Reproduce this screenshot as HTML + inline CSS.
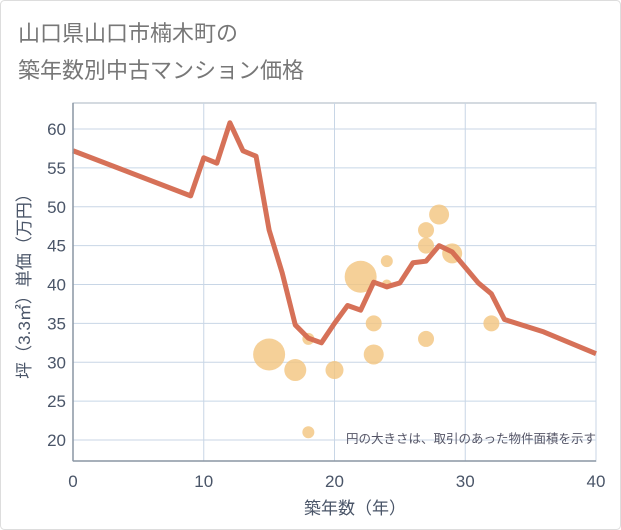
<!DOCTYPE html>
<html><head><meta charset="utf-8">
<style>
html,body{margin:0;padding:0;background:#fff;}
#wrap{position:relative;width:621px;height:530px;overflow:hidden;}
svg text{font-family:"Liberation Sans","Noto Sans CJK JP",sans-serif;}
</style></head>
<body>
<div id="wrap">
<svg id="chart" width="621" height="530">
<rect x="0.5" y="0.5" width="620" height="529" rx="4" fill="#fff" stroke="#ddd"/>
<text x="18" y="41" font-size="22" fill="#777">山口県山口市楠木町の</text>
<text x="18" y="78" font-size="22" fill="#777">築年数別中古マンション価格</text>
<g id="grid"></g>
<g id="bubbles"></g>
<g id="line"></g>
<g id="axes"></g>
<text x="596" y="443" font-size="12.5" fill="#556" text-anchor="end">円の大きさは、取引のあった物件面積を示す</text>
<text x="355" y="514" font-size="17" fill="#4a5568" text-anchor="middle">築年数（年）</text>
<text transform="translate(30,282) rotate(-90)" font-size="17" fill="#4a5568" text-anchor="middle">坪（3.3㎡）単価（万円）</text>
</svg>
</div>
<script>
const xTicks=[0,10,20,30,40];
const yTicks=[20,25,30,35,40,45,50,55,60];
const lineYears=[0,9,10,11,12,13,14,15,16,17,18,19,20,21,22,23,24,25,26,27,28,29,30,31,32,33,36,40];
const linePrices=[57.2,51.4,56.3,55.6,60.8,57.2,56.5,47,41.5,34.8,33.1,32.5,35,37.3,36.7,40.3,39.7,40.2,42.8,43,45,44.2,42.2,40.2,38.8,35.5,33.9,31.1];
const bubbleYears=[15,17,18,20,22,23,23,24,24,27,27,28,29,27,32,18];
const bubblePrices=[31,29,33,29,41,35,31,43,40,47,45,49,44,33,35,21];
const bubbleSizes=[16,11,6,9,16,8,10,6,5,8,8,10,10,8,8,6];
const L=73,R=596,T=103,B=461;
function xs(v){return L+(v-0)/(40-0)*(R-L);}
function ys(v){return 129+(60-v)*(440-129)/40;}
const NS="http://www.w3.org/2000/svg";
function mk(tag,attrs,parent){const e=document.createElementNS(NS,tag);for(const k in attrs)e.setAttribute(k,attrs[k]);parent.appendChild(e);return e;}
const grid=document.getElementById('grid'),axes=document.getElementById('axes');
mk('rect',{x:L,y:T,width:R-L,height:B-T,fill:'none',stroke:'#aab4c0','stroke-width':1},grid);
xTicks.forEach(t=>{
  const g=mk('line',{x1:xs(t),x2:xs(t),y1:T,y2:B,stroke:'#c8d6e6','stroke-width':1},grid);
  
  
  const tx=mk('text',{x:xs(t),y:487,'font-size':17,fill:'#4a5568','text-anchor':'middle'},axes);
  tx.textContent=t;
  
  
});
yTicks.forEach(t=>{
  const g=mk('line',{x1:L,x2:R,y1:ys(t),y2:ys(t),stroke:'#c8d6e6','stroke-width':1},grid);
  
  
  const tx=mk('text',{x:66,y:ys(t)+6,'font-size':17,fill:'#4a5568','text-anchor':'end'},axes);
  tx.textContent=t;
  
  
});
mk('line',{x1:L,x2:R,y1:B,y2:B,stroke:'#8a96a4','stroke-width':1.5},axes);
mk('line',{x1:L,x2:L,y1:T,y2:B,stroke:'#8a96a4','stroke-width':1.5},axes);
const bub=document.getElementById('bubbles');
bubbleYears.forEach((yr,i)=>{
  const c=mk('circle',{cx:xs(yr),cy:ys(bubblePrices[i]),r:bubbleSizes[i],fill:'#f3c47e','fill-opacity':0.8},bub);
  
  
});
const pts=lineYears.map((y,i)=>xs(y)+','+ys(linePrices[i])).join(' ');
const pl=mk('polyline',{points:pts,fill:'none',stroke:'#d4694f','stroke-width':5,'stroke-linejoin':'round','stroke-opacity':0.95},document.getElementById('line'));


</script>
</body></html>
